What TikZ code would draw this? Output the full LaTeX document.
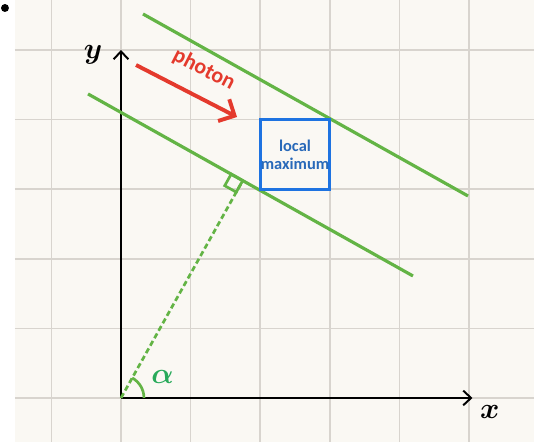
\documentclass[tikz,border=0pt]{standalone}
\usepackage{fontspec}
\setsansfont{Carlito}
\usepackage{amsmath,bm}
\usetikzlibrary{arrows.meta,calc}
\usepackage{tkz-euclide}
\definecolor{PaperClr}{RGB}{250,248,243}
\definecolor{GridClr}{RGB}{216,212,206}
\definecolor{WaveClr}{RGB}{99,180,69}
\definecolor{AngleClr}{RGB}{40,170,90}
\definecolor{PhotonClr}{RGB}{228,58,45}
\definecolor{BoxClr}{RGB}{30,115,225}
\definecolor{BoxTxtClr}{RGB}{40,105,185}

\begin{document}
\begin{tikzpicture}[
  axis/.style={line width=0.8pt,-{Straight Barb[length=3.2pt,width=6pt]}},
  front/.style={WaveClr,line width=1.3pt}]
\useasboundingbox (-1.7385,-0.632) rectangle (5.934,5.718);
\fill[PaperClr] (-1.523,-0.632) rectangle (5.934,5.718);
\draw[GridClr,line width=0.7pt] (-1.523,-0.632) grid (5.934,5.718);
\fill (-1.667,5.603) circle (0.057);

\tkzDefPoints{0/0/O,5.05/0/X,0/5/Y}
\tkzDefPoints{-0.474/4.368/A1,4.195/1.753/A2,0.316/5.517/B1,4.986/2.902/B2}
\tkzDefPoints{0.216/4.784/P1,1.667/4.037/P2}
\tkzDefPointBy[projection=onto A1--A2](O)\tkzGetPoint{H}

\draw[axis] (O) -- (X);
\draw[axis] (O) -- (Y);
\draw[front] (A1) -- (A2);
\draw[front] (B1) -- (B2);
\draw[WaveClr,line width=1.1pt,dash pattern=on 2.2pt off 1.3pt] (O) -- (H);

\tkzMarkRightAngle[size=0.19,color=WaveClr,line width=1.1pt](A1,H,O)
\tkzMarkAngle[size=0.33,color=WaveClr,line width=1.1pt](X,O,H)

\node[draw=BoxClr,line width=1.3pt,minimum size=1cm,inner sep=0pt,align=center,
  text=BoxTxtClr,font=\sffamily\bfseries\fontsize{6.7}{7.4}\selectfont] (lmax) at (2.5,3.5) {local\\maximum};

\draw[PhotonClr,line width=1.6pt,-{Straight Barb[length=5pt,width=10pt]}] (P1) -- (P2)
  node[pos=0.55,sloped,above=3pt,font=\sffamily\bfseries\fontsize{9}{10}\selectfont] (phot) {photon};

\node (ylab) at (-0.40,4.93) {\large$\bm{y}$};
\node (xlab) at (5.30,-0.20) {\large$\bm{x}$};
\node[text=AngleClr] (alpha) at ($(O)+(27:0.67)$) {\large$\bm{\alpha}$};

\end{tikzpicture}
\end{document}
